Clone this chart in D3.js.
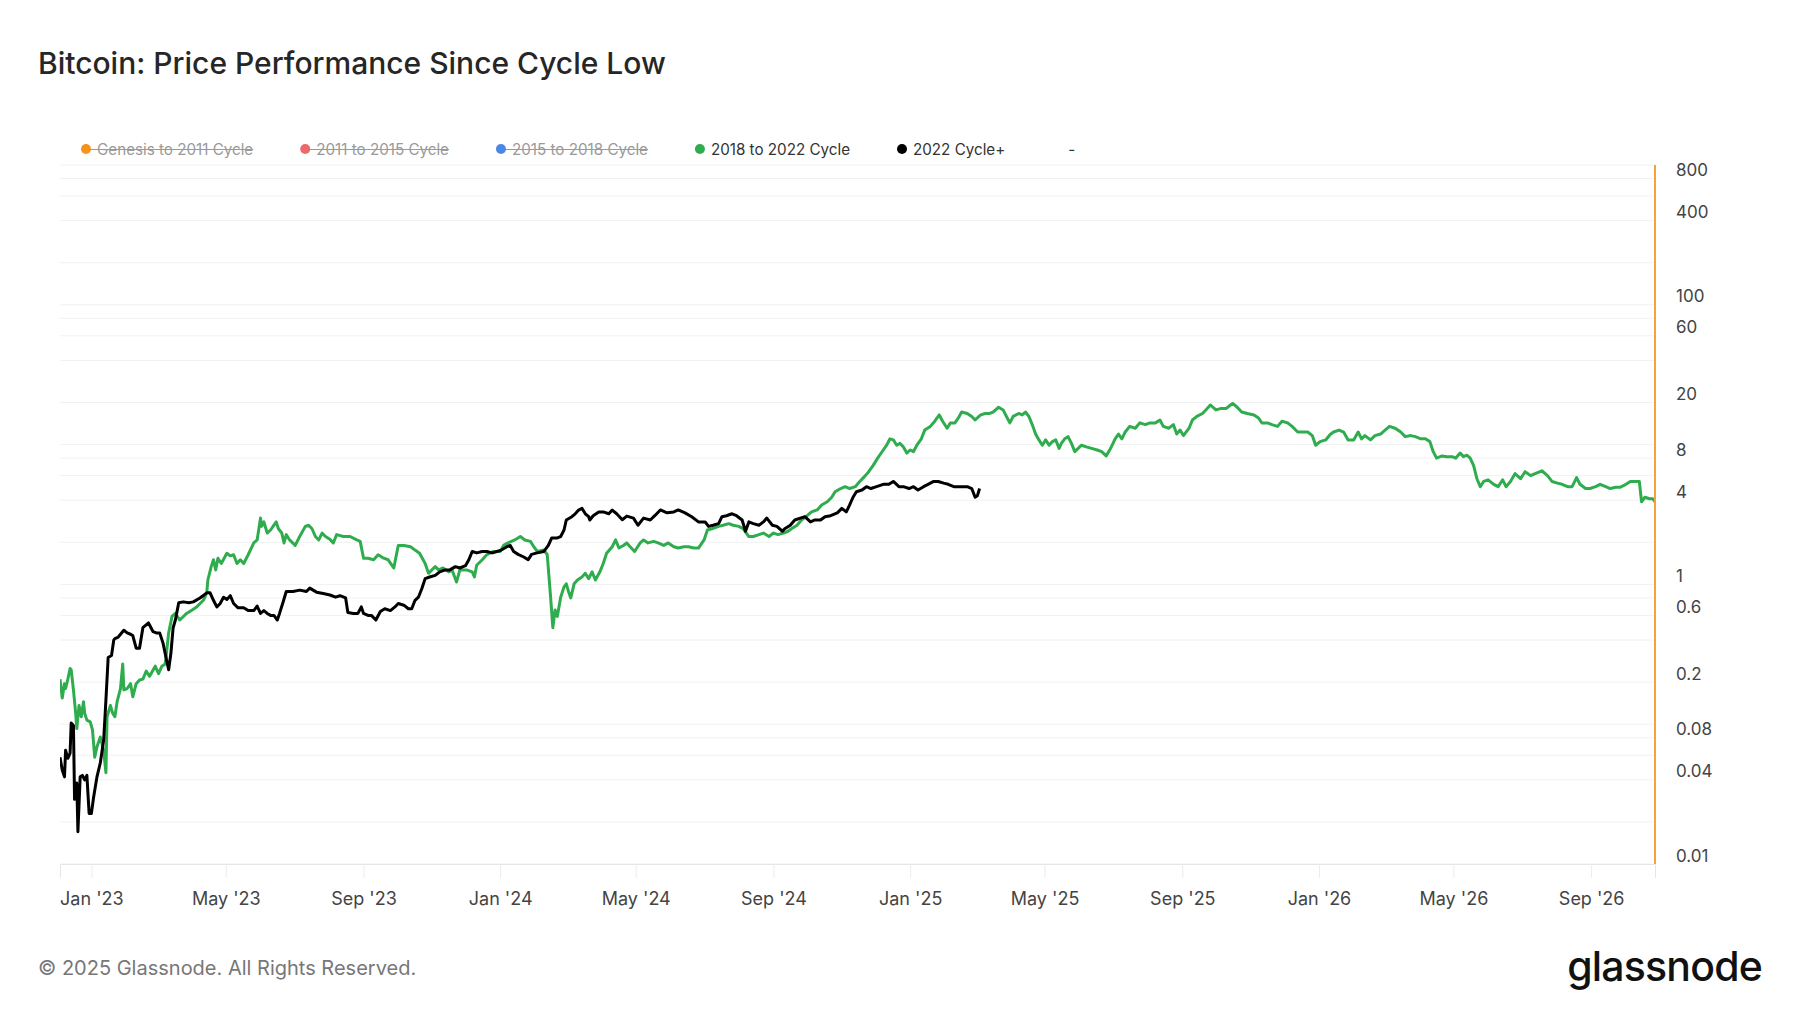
<!DOCTYPE html>
<html>
<head>
<meta charset="utf-8">
<script src="https://cdn.jsdelivr.net/npm/d3@7"></script>
<style>
  body { margin: 0; background: #fff; }
  text { font-family: Inter, "Noto Sans", sans-serif; }
</style>
</head>
<body>
<svg id="chart" width="1800" height="1013"></svg>
<script>
// days counted from the first date on the x axis
const startDate = "2022-12-04"
const lastDay = 1424

// 2022 Cycle+ : [day, performance since cycle low]
const cycle2022 = [[0,0.058],[2,0.047],[4,0.042],[5,0.065],[7,0.057],[9,0.062],[10,0.102],[12,0.098],[13,0.029],[15,0.038],[16,0.017],[18,0.042],[20,0.043],[22,0.040],[24,0.043],[26,0.023],[28,0.023],[30,0.030],[33,0.042],[36,0.053],[39,0.077],[41,0.149],[43,0.30],[46,0.31],[48,0.40],[49,0.41],[52,0.42],[57,0.47],[60,0.45],[63,0.44],[65,0.43],[68,0.35],[71,0.35],[74,0.49],[79,0.53],[83,0.46],[86,0.45],[89,0.45],[92,0.38],[95,0.29],[97,0.245],[99,0.32],[101,0.49],[103,0.556],[106,0.74],[110,0.75],[115,0.74],[119,0.75],[125,0.80],[131,0.87],[134,0.87],[137,0.77],[140,0.69],[143,0.73],[146,0.81],[149,0.78],[152,0.83],[155,0.73],[159,0.68],[164,0.68],[168,0.65],[173,0.65],[176,0.70],[179,0.62],[182,0.65],[185,0.62],[188,0.60],[191,0.60],[194,0.556],[196,0.62],[199,0.74],[202,0.89],[208,0.89],[214,0.91],[220,0.89],[223,0.94],[229,0.88],[235,0.86],[241,0.84],[246,0.81],[250,0.83],[255,0.80],[257,0.63],[262,0.62],[266,0.62],[269,0.69],[271,0.62],[275,0.60],[278,0.60],[282,0.556],[286,0.64],[290,0.67],[295,0.65],[299,0.69],[302,0.73],[307,0.71],[311,0.67],[314,0.67],[317,0.77],[320,0.81],[323,0.93],[326,1.10],[330,1.13],[335,1.16],[339,1.23],[344,1.27],[348,1.27],[353,1.34],[357,1.31],[362,1.36],[365,1.50],[368,1.72],[372,1.68],[377,1.72],[381,1.72],[386,1.68],[390,1.72],[394,1.76],[399,1.86],[402,1.90],[405,1.72],[409,1.64],[414,1.57],[418,1.50],[421,1.64],[426,1.68],[432,1.72],[436,1.90],[439,2.15],[444,2.15],[447,2.20],[450,2.45],[452,2.89],[457,3.05],[460,3.20],[463,3.40],[466,3.50],[469,3.20],[472,3.05],[473,2.89],[476,3.10],[481,3.30],[485,3.30],[490,3.20],[493,3.40],[497,3.20],[502,2.90],[506,3.08],[512,2.98],[516,2.65],[521,2.98],[527,2.89],[531,3.10],[536,3.41],[542,3.25],[548,3.30],[552,3.41],[558,3.25],[564,3.05],[570,2.80],[576,2.80],[579,2.60],[583,2.65],[588,2.72],[591,3.05],[595,3.10],[600,3.20],[604,3.10],[609,2.89],[612,2.40],[615,2.80],[619,2.72],[624,2.65],[628,2.80],[631,2.98],[636,2.65],[640,2.60],[645,2.40],[647,2.50],[652,2.65],[656,2.89],[661,2.98],[665,3.05],[670,2.80],[674,2.89],[679,2.89],[683,3.05],[688,3.10],[694,3.25],[698,3.50],[702,3.30],[705,3.70],[708,4.20],[711,4.60],[716,4.73],[720,5.00],[724,4.85],[729,5.00],[735,5.20],[740,5.20],[744,5.45],[749,5.00],[753,5.00],[758,4.85],[762,5.00],[766,4.73],[771,5.00],[775,5.20],[780,5.45],[784,5.45],[789,5.30],[793,5.20],[798,5.00],[804,5.00],[810,5.00],[814,4.85],[817,4.20],[819,4.30],[821,4.85]]

// 2018 to 2022 Cycle, aligned on the same day count
const cycle2018 = [[0,0.21],[2,0.154],[4,0.195],[5,0.18],[7,0.21],[9,0.25],[10,0.245],[12,0.176],[14,0.12],[15,0.093],[17,0.136],[19,0.113],[21,0.145],[22,0.12],[24,0.107],[27,0.104],[29,0.091],[31,0.058],[33,0.069],[36,0.081],[39,0.065],[41,0.045],[42,0.113],[45,0.136],[47,0.12],[49,0.113],[51,0.145],[54,0.18],[56,0.27],[57,0.176],[60,0.18],[63,0.195],[65,0.157],[68,0.195],[71,0.207],[74,0.21],[77,0.24],[80,0.22],[85,0.26],[88,0.23],[91,0.26],[94,0.27],[95,0.32],[97,0.45],[100,0.59],[103,0.62],[107,0.556],[113,0.62],[118,0.656],[122,0.69],[128,0.77],[131,0.87],[132,1.075],[135,1.34],[137,1.50],[139,1.27],[141,1.54],[144,1.41],[149,1.67],[152,1.60],[155,1.63],[158,1.41],[161,1.50],[164,1.41],[168,1.63],[173,1.98],[176,2.08],[179,2.98],[180,2.60],[182,2.80],[185,2.33],[188,2.45],[191,2.65],[193,2.80],[195,2.50],[198,2.33],[200,1.98],[202,2.27],[205,2.08],[210,1.90],[214,2.20],[219,2.60],[222,2.65],[225,2.50],[228,2.20],[231,2.08],[234,2.33],[237,2.20],[241,2.10],[244,1.98],[247,2.27],[253,2.20],[259,2.20],[265,2.08],[268,2.03],[271,1.54],[275,1.54],[280,1.50],[284,1.63],[289,1.54],[293,1.50],[298,1.31],[302,1.90],[307,1.90],[313,1.86],[317,1.76],[321,1.67],[326,1.41],[329,1.20],[332,1.27],[335,1.34],[338,1.27],[342,1.31],[347,1.23],[350,1.27],[354,1.04],[357,1.27],[363,1.27],[368,1.23],[370,1.13],[372,1.37],[377,1.50],[381,1.63],[387,1.72],[393,1.72],[396,1.90],[400,1.98],[406,2.08],[411,2.20],[415,2.08],[420,2.03],[423,1.86],[426,1.72],[432,1.76],[435,1.63],[438,0.81],[440,0.49],[442,0.656],[444,0.59],[447,0.81],[450,0.96],[452,1.01],[454,0.89],[456,0.80],[459,1.01],[462,1.075],[466,1.13],[469,1.20],[472,1.10],[475,1.23],[478,1.075],[482,1.23],[485,1.41],[488,1.67],[493,1.86],[496,2.08],[499,1.82],[503,1.90],[506,1.98],[509,1.86],[513,1.72],[518,1.98],[521,2.08],[525,1.98],[530,2.03],[534,1.98],[539,1.90],[543,1.98],[548,1.86],[552,1.82],[557,1.86],[561,1.86],[566,1.82],[570,1.82],[575,2.08],[578,2.45],[582,2.50],[588,2.60],[592,2.65],[597,2.72],[601,2.65],[606,2.60],[610,2.50],[615,2.20],[619,2.20],[624,2.27],[628,2.33],[633,2.20],[637,2.33],[641,2.27],[646,2.33],[650,2.40],[653,2.50],[658,2.65],[662,2.89],[667,3.10],[671,3.30],[676,3.41],[680,3.70],[685,3.90],[689,4.20],[692,4.60],[697,4.85],[701,5.00],[705,4.85],[710,5.00],[714,5.45],[719,6.00],[722,6.40],[726,7.10],[730,8.00],[735,9.15],[738,9.90],[741,11.0],[744,10.8],[747,9.90],[750,10.2],[753,9.60],[756,8.70],[759,9.15],[762,8.90],[765,9.90],[769,11.0],[772,12.7],[777,13.5],[781,14.7],[785,16.3],[788,14.7],[792,13.1],[795,14.3],[799,14.3],[802,15.5],[805,17.1],[810,16.7],[814,15.9],[817,15.0],[822,16.3],[826,16.7],[830,16.7],[833,17.1],[838,18.5],[842,17.7],[845,15.9],[848,14.3],[851,15.9],[856,16.7],[859,16.3],[862,17.1],[865,15.9],[868,13.9],[871,11.9],[874,10.8],[877,9.9],[880,10.8],[883,9.9],[886,10.5],[889,10.8],[892,9.4],[894,10.2],[897,11.0],[900,11.4],[903,10.2],[906,8.9],[909,9.4],[912,9.9],[917,9.6],[921,9.4],[926,9.15],[930,8.9],[934,8.3],[938,9.4],[942,11.0],[945,11.9],[948,11.0],[951,12.3],[955,13.5],[960,13.1],[964,14.3],[969,13.9],[973,14.3],[978,14.3],[982,15.0],[985,13.5],[990,13.1],[994,13.9],[997,11.9],[1000,12.7],[1003,11.6],[1008,13.1],[1011,15.0],[1015,15.9],[1020,16.7],[1023,17.7],[1027,19.2],[1032,17.7],[1036,18.1],[1041,18.1],[1045,19.2],[1047,19.7],[1051,18.5],[1055,17.1],[1060,16.7],[1066,16.3],[1070,15.5],[1073,14.3],[1078,14.3],[1082,13.9],[1087,13.5],[1091,14.7],[1096,14.3],[1100,13.5],[1105,12.3],[1109,12.3],[1114,12.3],[1118,11.6],[1121,9.9],[1125,10.5],[1130,10.8],[1134,11.8],[1137,12.3],[1142,12.7],[1146,12.3],[1150,10.8],[1155,10.8],[1159,12.3],[1162,11.0],[1165,11.6],[1170,10.8],[1174,11.6],[1179,11.9],[1183,12.7],[1187,13.5],[1192,13.1],[1197,12.3],[1201,11.4],[1206,11.6],[1210,11.4],[1215,11.0],[1219,11.0],[1223,10.5],[1226,8.9],[1229,8.0],[1234,8.3],[1238,8.2],[1243,8.2],[1246,8.0],[1250,8.7],[1253,8.2],[1256,8.4],[1259,8.0],[1262,7.1],[1265,5.7],[1268,5.0],[1271,5.45],[1275,5.6],[1280,5.2],[1284,5.0],[1288,5.6],[1291,5.0],[1295,5.45],[1299,6.2],[1304,5.7],[1308,6.4],[1313,6.0],[1317,6.2],[1323,6.5],[1328,6.0],[1332,5.45],[1337,5.3],[1341,5.2],[1346,5.0],[1350,5.0],[1354,5.8],[1357,5.2],[1362,4.85],[1366,4.85],[1371,5.0],[1375,5.2],[1380,5.0],[1384,4.85],[1389,4.95],[1393,4.95],[1398,5.2],[1402,5.45],[1407,5.45],[1410,5.45],[1412,3.9],[1415,4.2],[1419,4.1],[1422,4.1],[1424,3.9]]

const legendNames = ["Genesis to 2011 Cycle", "2011 to 2015 Cycle", "2015 to 2018 Cycle", "2018 to 2022 Cycle", "2022 Cycle+"]
const legendColors = ["#f7931a", "#ec6a6c", "#4b88e6", "#2fad4e", "#000000"]
const legendHidden = [true, true, true, false, false]

const yTickLabels = [800, 400, 100, 60, 20, 8, 4, 1, 0.6, 0.2, 0.08, 0.04, 0.01]
const yGridValues = [1000, 800, 600, 400, 200, 100, 80, 60, 40, 20, 10, 8, 6, 4, 2, 1, 0.8, 0.6, 0.4, 0.2, 0.1, 0.08, 0.06, 0.04, 0.02, 0.01]

const svg = d3.select("#chart")
const plotLeft = 60, plotRight = 1655, plotTop = 165, plotBottom = 864

const start = new Date(startDate + "T00:00:00Z")
const dayToDate = (d) => d3.utcDay.offset(start, d)

const x = d3.scaleUtc()
  .domain([start, dayToDate(lastDay)])
  .range([plotLeft, plotRight])

const y = d3.scaleLog()
  .domain([0.01, 1000])
  .range([plotBottom, plotTop])

// title
svg.append("text")
  .attr("x", 38).attr("y", 74)
  .attr("font-size", 30).attr("font-weight", 500)
  .attr("fill", "#262626")
  .text("Bitcoin: Price Performance Since Cycle Low")

// grid
svg.append("g")
  .selectAll("line")
  .data(yGridValues)
  .join("line")
  .attr("x1", plotLeft).attr("x2", plotRight)
  .attr("y1", d => y(d)).attr("y2", d => y(d))
  .attr("stroke", "#f1f1f1").attr("stroke-width", 1)

// x axis
const xAxis = d3.axisBottom(x)
  .ticks(d3.utcMonth.every(4))
  .tickFormat(d3.utcFormat("%b '%y"))
  .tickSize(14)
  .tickPadding(14)

const gx = svg.append("g")
  .attr("transform", "translate(0," + plotBottom + ")")
  .call(xAxis)
gx.select(".domain").attr("stroke", "#e6e6e6")
gx.selectAll(".tick line").attr("stroke", "#ececec")
gx.selectAll(".tick text")
  .attr("font-size", 18).attr("fill", "#444")
  .attr("font-family", "Inter, sans-serif")

// y axis on the right
const yAxis = d3.axisRight(y)
  .tickValues(yTickLabels)
  .tickFormat(d => String(d))
  .tickSize(0)
  .tickPadding(21)

const gy = svg.append("g")
  .attr("transform", "translate(" + plotRight + ",0)")
  .call(yAxis)
gy.select(".domain").remove()
gy.selectAll(".tick text")
  .attr("font-size", 17).attr("fill", "#444")
  .attr("font-family", "Inter, sans-serif")
  .attr("dy", null).attr("y", -3)

// lines
const line = d3.line()
  .x(d => x(dayToDate(d[0])))
  .y(d => y(d[1]))

svg.append("clipPath").attr("id", "plot")
  .append("rect")
  .attr("x", plotLeft).attr("y", plotTop)
  .attr("width", plotRight - plotLeft).attr("height", plotBottom - plotTop)

const plot = svg.append("g").attr("clip-path", "url(#plot)")

plot.append("path")
  .datum(cycle2018)
  .attr("d", line)
  .attr("fill", "none")
  .attr("stroke", legendColors[3])
  .attr("stroke-width", 3)
  .attr("stroke-linejoin", "round")

plot.append("path")
  .datum(cycle2022)
  .attr("d", line)
  .attr("fill", "none")
  .attr("stroke", legendColors[4])
  .attr("stroke-width", 3)
  .attr("stroke-linejoin", "round")

// orange marker on the right edge
svg.append("line")
  .attr("x1", plotRight).attr("x2", plotRight)
  .attr("y1", plotTop).attr("y2", plotBottom)
  .attr("stroke", "#f2a43a").attr("stroke-width", 2)

// legend
const legend = svg.append("g")
let lx = 86
const ly = 149
legendNames.forEach((name, i) => {
  const item = legend.append("g")
  const t = item.append("text")
    .attr("x", lx + 11).attr("y", ly + 5.5)
    .attr("font-size", 15.2)
    .attr("fill", legendHidden[i] ? "#9a9a9a" : "#333")
    .text(name)
  const w = t.node().getComputedTextLength()
  if (legendHidden[i]) {
    item.append("line")
      .attr("x1", lx).attr("x2", lx + 11 + w)
      .attr("y1", ly + 0.5).attr("y2", ly + 0.5)
      .attr("stroke", "#9a9a9a").attr("stroke-width", 1)
  }
  item.append("circle")
    .attr("cx", lx).attr("cy", ly)
    .attr("r", 5)
    .attr("fill", legendColors[i])
  lx = lx + 11 + w + 52
})
legend.append("text")
  .attr("x", lx + 11).attr("y", ly + 5.5)
  .attr("font-size", 15.2).attr("fill", "#333")
  .text("-")

// footer
svg.append("text")
  .attr("x", 38).attr("y", 975)
  .attr("font-size", 20).attr("fill", "#777")
  .text("© 2025 Glassnode. All Rights Reserved.")

svg.append("text")
  .attr("x", 1762).attr("y", 981)
  .attr("text-anchor", "end")
  .attr("font-size", 41).attr("font-weight", 500)
  .attr("letter-spacing", -0.8)
  .attr("fill", "#111")
  .text("glassnode")
</script>
</body>
</html>
